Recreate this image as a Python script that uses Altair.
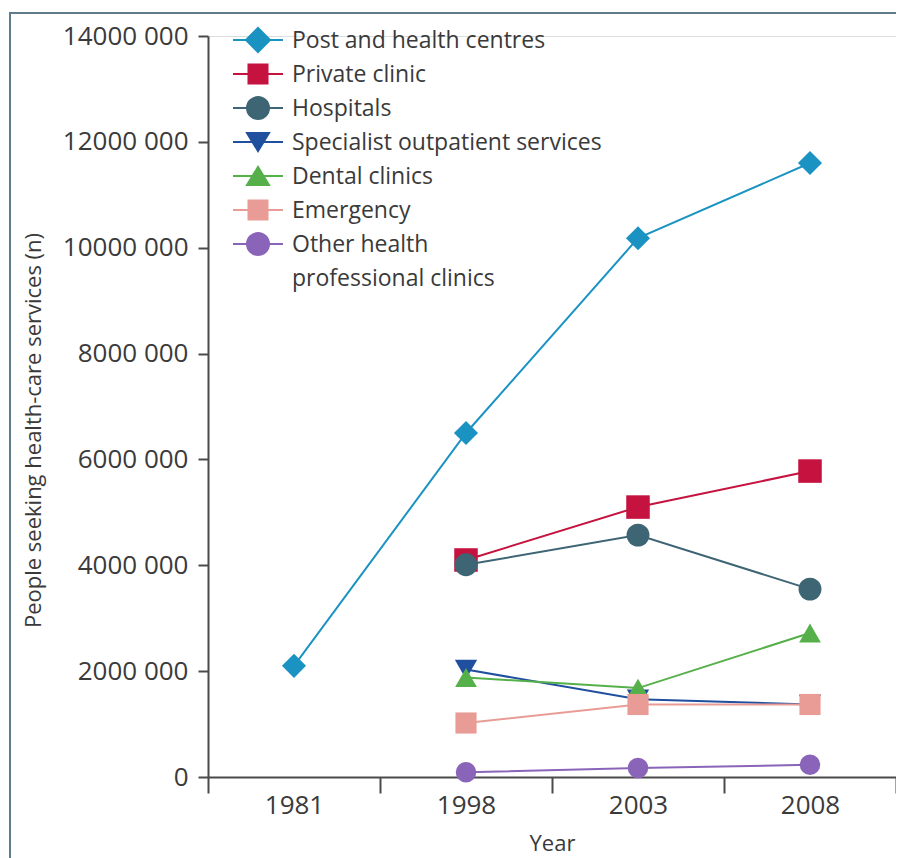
import altair as alt
import pandas as pd

FONT = "Open Sans"
TXT = "#3a3a3a"
AX = "#4a4a4a"

years = ["1981", "1998", "2003", "2008"]
series_names = [
    "Post and health centres",
    "Private clinic",
    "Hospitals",
    "Specialist outpatient services",
    "Dental clinics",
    "Emergency",
    "Other health professional clinics",
]
post = [2_100_000, 6_500_000, 10_180_000, 11_600_000]
private = [None, 4_100_000, 5_100_000, 5_780_000]
hospitals = [None, 4_010_000, 4_570_000, 3_550_000]
specialist = [None, 2_030_000, 1_470_000, 1_370_000]
dental = [None, 1_880_000, 1_680_000, 2_720_000]
emergency = [None, 1_020_000, 1_370_000, 1_370_000]
other = [None, 90_000, 170_000, 230_000]
values = [post, private, hospitals, specialist, dental, emergency, other]

colors = ["#1b93c2", "#c5123e", "#3e6574", "#1f4f9e", "#55b04a", "#e99c95", "#8a64b9"]
shapes = ["diamond", "square", "circle", "triangle-down", "triangle-up", "square", "circle"]
sizes = [580, 420, 540, 500, 500, 420, 540]
y_ticks = [0, 2_000_000, 4_000_000, 6_000_000, 8_000_000, 10_000_000, 12_000_000, 14_000_000]

rows = []
for name, vals in zip(series_names, values):
    for yr, v in zip(years, vals):
        if v is not None:
            rows.append({"year": yr, "series": name, "value": v})
df = pd.DataFrame(rows)

# legend symbols: a short line with the marker, drawn in unit coordinates
U = 16.0          # pixels per unit (sqrt(symbolSize)/2)
dy = -8.0 / U     # lift marker to text centre
arm = 25 / U
ext_top = -20.5 / U   # fixed vertical extent so every legend row is equally tall
ext_bot = 4.5 / U


def legend_path(kind):
    box = f"M0,{ext_top:.3f}M0,{ext_bot:.3f}"
    line = f"M{-arm:.3f},{dy:.3f}H{arm:.3f}"
    if kind == "diamond":
        h = 12 / U
        m = f"M{-h:.3f},{dy:.3f}L0,{dy - h:.3f}L{h:.3f},{dy:.3f}L0,{dy + h:.3f}Z"
    elif kind == "square":
        h = 9.5 / U
        m = f"M{-h:.3f},{dy - h:.3f}H{h:.3f}V{dy + h:.3f}H{-h:.3f}Z"
    elif kind == "circle":
        r = 11 / U
        m = (f"M{r:.3f},{dy:.3f}A{r:.3f},{r:.3f},0,1,1,{-r:.3f},{dy:.3f}"
             f"A{r:.3f},{r:.3f},0,1,1,{r:.3f},{dy:.3f}Z")
    elif kind == "triangle-down":
        w = 11 / U
        t = 9 / U
        m = f"M{-w:.3f},{dy - t:.3f}L{w:.3f},{dy - t:.3f}L0,{dy + t:.3f}Z"
    else:
        w = 11 / U
        t = 9 / U
        m = f"M{-w:.3f},{dy + t:.3f}L{w:.3f},{dy + t:.3f}L0,{dy - t:.3f}Z"
    return box + line + m


legend_shapes = [legend_path(s) for s in shapes]

W, H = 688, 741

x_enc = alt.X(
    "year:O",
    scale=alt.Scale(type="band", domain=years, paddingInner=0, paddingOuter=0),
    axis=alt.Axis(
        tickBand="extent", tickSize=16, tickWidth=2, tickColor=AX,
        domainColor=AX, domainWidth=2, labelAngle=0, labelPadding=-1,
        labelFont=FONT, labelFontSize=26, labelColor=TXT,
        title="Year", titleFont=FONT, titleFontSize=22, titleFontWeight="normal",
        titleColor=TXT, titleY=66, titleBaseline="middle", grid=False,
    ),
)
y_enc = alt.Y(
    "value:Q",
    scale=alt.Scale(domain=[0, 14_000_000], nice=False, zero=True),
    axis=alt.Axis(
        values=y_ticks,
        labelExpr="datum.value == 0 ? '0' : format(floor(datum.value / 1000), 'd') + ' ' + format(datum.value % 1000, '03d')",
        tickSize=10, tickWidth=2, tickColor=AX, domainColor=AX, domainWidth=2,
        labelPadding=10, labelFont=FONT, labelFontSize=26, labelColor=TXT,
        title="People seeking health-care services (n)", titleFont=FONT,
        titleFontSize=22, titleFontWeight="normal", titleColor=TXT,
        titleX=-175, titleY=394, titleAngle=-90, titleAlign="center",
        titleBaseline="middle", grid=False,
    ),
)

color_scale = alt.Scale(domain=series_names, range=colors)

base = alt.Chart(df)

lines = base.mark_line(strokeWidth=2).encode(
    x=x_enc, y=y_enc,
    color=alt.Color("series:N", scale=color_scale, legend=None),
    detail="series:N",
)

points = base.mark_point(filled=True, opacity=1).encode(
    x=x_enc, y=y_enc,
    color=alt.Color("series:N", scale=color_scale, legend=None),
    shape=alt.Shape("series:N", scale=alt.Scale(domain=series_names, range=shapes), legend=None),
    size=alt.Size("series:N", scale=alt.Scale(domain=series_names, range=sizes), legend=None),
)

leg = alt.Legend(
    orient="none", legendX=33, legendY=-5, title=None, padding=0,
    symbolSize=1024, symbolStrokeWidth=2, symbolOpacity=1,
    labelOffset=17, labelFont=FONT, labelFontSize=23, labelColor=TXT,
    labelLimit=600, labelBaseline="alphabetic", rowPadding=0,
    labelExpr="datum.label == 'Other health professional clinics' ? ['Other health', 'professional clinics'] : datum.label",
)

legend_layer = base.mark_point(filled=True, opacity=0, size=1024, strokeWidth=2).encode(
    x=x_enc, y=y_enc,
    color=alt.Color("series:N", scale=color_scale, legend=leg),
    stroke=alt.Stroke("series:N", scale=alt.Scale(domain=series_names, range=colors), legend=leg),
    shape=alt.Shape("series:N", scale=alt.Scale(domain=series_names, range=legend_shapes), legend=leg),
)

frame_df = pd.DataFrame({"k": [0]})
frame = alt.Chart(frame_df).mark_rect(fill=None, fillOpacity=0, stroke="#5f7b8c", strokeWidth=2).encode(
    x=alt.value(-198), x2=alt.value(W + 60), y=alt.value(-23), y2=alt.value(H + 160)
)

chart = (
    alt.layer(frame, lines, points, legend_layer)
    .resolve_scale(color="independent", shape="independent", stroke="independent", size="independent")
    .properties(
        width=W, height=H,
        autosize=alt.AutoSizeParams(type="none"),
        padding={"left": 200, "top": 28, "right": 0, "bottom": 82},
        background="white",
    )
    .configure_view(stroke=None)
    .configure(style={"guide-label": {"lineHeight": 34}})
)

chart.save("out.html", embed_options={"renderer": "svg", "actions": False})
